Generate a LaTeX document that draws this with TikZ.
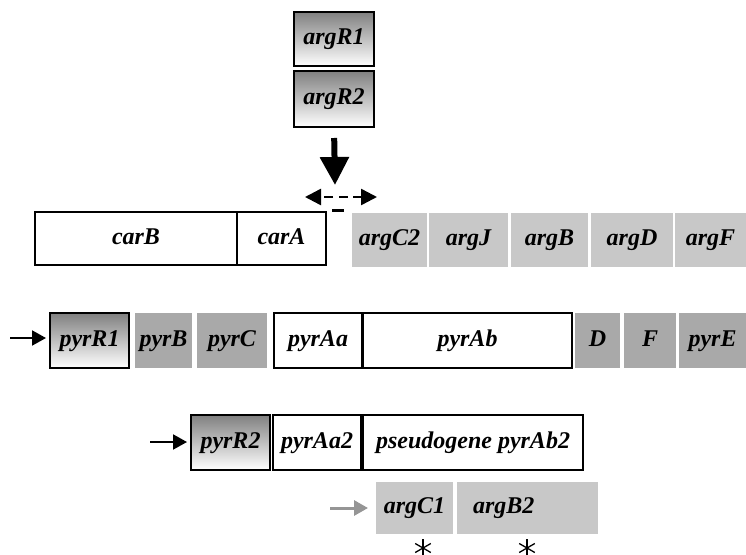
\documentclass[tikz,border=0pt]{standalone}
\usepackage{fontspec}
\setmainfont{Liberation Serif}
\usetikzlibrary{arrows.meta,calc}
\definecolor{arggray}{HTML}{C8C8C8}
\definecolor{pyrgray}{HTML}{A9A9A9}
\definecolor{gradtop}{HTML}{808080}
\definecolor{arrgray}{HTML}{959595}
\tikzset{
  gene/.style={rectangle, inner sep=0pt, outer sep=0pt, text height=17pt, text depth=6pt, font=\fontsize{24}{26}\selectfont\bfseries\itshape},
  whitebox/.style={gene, draw=black, line width=2.2pt, fill=white},
  gradbox/.style={gene, draw=black, line width=2.5pt, top color=gradtop, bottom color=white},
  argbox/.style={gene, fill=arggray},
  pyrbox/.style={gene, fill=pyrgray},
  smallarrow/.style={line width=2pt, -{Triangle[width=15pt,length=14pt]}},
  promarrow/.style={line width=2.5pt, dash pattern=on 9pt off 5pt, shorten <=3pt, -{Triangle[width=16pt,length=16pt]}},
  asterline/.style={line width=1.3pt}
}
\begin{document}
\begin{tikzpicture}[x=1pt,y=-1pt]
\useasboundingbox (0,0) rectangle (746,554);
% regulators
\node[gradbox, minimum width=80pt, minimum height=54pt] (argR1) at (334,39) {argR1};
\node[gradbox, minimum width=80pt, minimum height=56pt] (argR2) at (334,99) {argR2};
\coordinate (bigtip) at (335,185);
\draw[line width=6pt, shorten <=11pt, -{Triangle[width=28pt,length=28pt]}] (argR2.south) -- (bigtip);
% divergent promoters
\coordinate (pc) at (336,197);
\coordinate (pl) at (305,197);
\coordinate (pr) at (377,197);
\draw[promarrow] (pc) -- (pl);
\draw[promarrow] (pc) -- (pr);
\coordinate (ml) at (332,210);
\coordinate (mr) at (344,210);
\draw[line width=3pt] (ml) -- (mr);
% row 1
\node[whitebox, minimum width=202pt, minimum height=53pt] (carB) at (136,238.5) {carB};
\node[whitebox, minimum width=89pt, minimum height=53pt] (carA) at (281.5,238.5) {carA};
\node[argbox, minimum width=75pt, minimum height=54pt] (argC2) at (389.5,240) {argC2};
\node[argbox, minimum width=79pt, minimum height=54pt] (argJ) at (468.5,240) {argJ};
\node[argbox, minimum width=77pt, minimum height=54pt] (argB) at (549.5,240) {argB};
\node[argbox, minimum width=82pt, minimum height=54pt] (argD) at (632,240) {argD};
\node[argbox, minimum width=71pt, minimum height=54pt] (argF) at (710.5,240) {argF};
% row 2
\coordinate (a1) at (10,338);
\node[gradbox, minimum width=79pt, minimum height=55pt] (pyrR1) at (89.5,340.5) {pyrR1};
\draw[smallarrow, shorten >=4pt] (a1) -- (pyrR1.west |- a1);
\node[pyrbox, minimum width=57pt, minimum height=55pt] (pyrB) at (163.5,340.5) {pyrB};
\node[pyrbox, minimum width=70pt, minimum height=55pt] (pyrC) at (232,340.5) {pyrC};
\node[whitebox, minimum width=88pt, minimum height=55pt] (pyrAa) at (318,340.5) {pyrAa};
\node[whitebox, minimum width=209pt, minimum height=55pt] (pyrAb) at (467.5,340.5) {pyrAb};
\node[pyrbox, minimum width=45pt, minimum height=55pt] (D) at (597.5,340.5) {D};
\node[pyrbox, minimum width=52pt, minimum height=55pt] (F) at (650,340.5) {F};
\node[pyrbox, minimum width=67pt, minimum height=55pt] (pyrE) at (712.5,340.5) {pyrE};
% row 3
\coordinate (a2) at (150,442);
\node[gradbox, minimum width=79pt, minimum height=55pt] (pyrR2) at (230.5,442.5) {pyrR2};
\draw[smallarrow, shorten >=4pt] (a2) -- (pyrR2.west |- a2);
\node[whitebox, minimum width=88pt, minimum height=55pt] (pyrAa2) at (317,442.5) {pyrAa2};
\node[whitebox, minimum width=220pt, minimum height=55pt] (pseudo) at (473,442.5) {pseudogene pyrAb2};
% row 4
\coordinate (a3) at (330,508);
\node[argbox, minimum width=77pt, minimum height=52pt] (argC1) at (414.5,508) {argC1};
\draw[smallarrow, draw=arrgray, fill=arrgray, line width=3pt, shorten >=8pt] (a3) -- (argC1.west |- a3);
\node[argbox, minimum height=52pt, text width=109pt, inner xsep=16pt, align=left] (argB2) at (527.5,508) {argB2};
% asterisks
\foreach \n/\cx in {s1/423, s2/527} {
  \coordinate (\n) at (\cx,548);
  \draw[asterline] ($(\n)+(0,-9)$) -- ($(\n)+(0,9)$);
  \draw[asterline] ($(\n)+(-7.8,-4.5)$) -- ($(\n)+(7.8,4.5)$);
  \draw[asterline] ($(\n)+(-7.8,4.5)$) -- ($(\n)+(7.8,-4.5)$);
}
\end{tikzpicture}
\end{document}
